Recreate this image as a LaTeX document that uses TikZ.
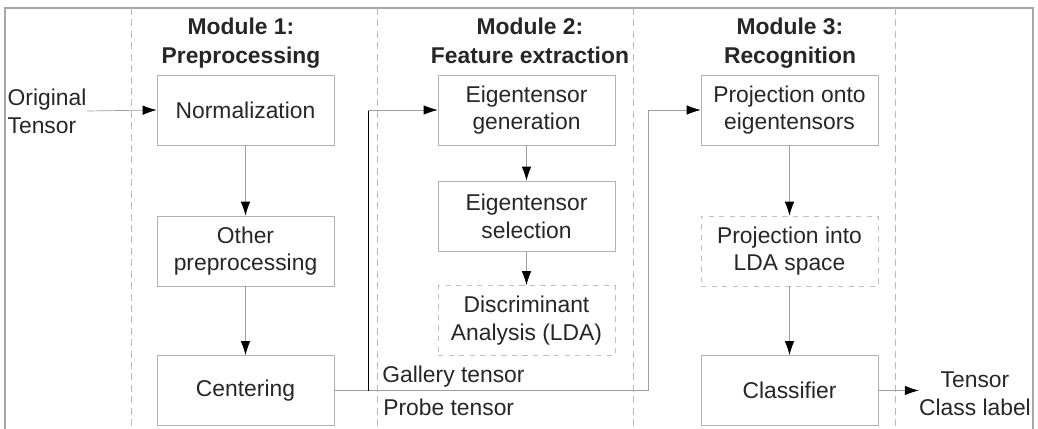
\documentclass[tikz,border=0pt]{standalone}
\usepackage{fontspec}
\setmainfont{Liberation Sans}
\usetikzlibrary{arrows.meta}

\tikzset{
    box/.style={draw=gray!60, minimum width=3.54cm, minimum height=1.4cm, align=center, inner sep=1pt},
    dbox/.style={box, dashed, draw=gray!50},
    conn/.style={draw=gray!75, -{Latex[length=2.8mm,width=1.9mm,black]}},
    title/.style={font=\fontsize{13}{16.5}\selectfont\bfseries, align=center, anchor=north, inner sep=0pt},
    sep/.style={draw=gray!55, dashed, dash pattern=on 4pt off 2.5pt}
}

\begin{document}
\begin{tikzpicture}[x=0.02cm, y=-0.02cm, font=\fontsize{13}{15.8}\selectfont, text=black!85]
    \useasboundingbox (0,0) rectangle (1038,429);
    % frame and module separators
    \draw[gray!70, line width=1.2pt] (5,429) -- (5,8) -- (1033,8) -- (1033,429);
    \foreach \x in {131,377,633,895}
        \draw[sep] (\x,8) -- (\x,429);
    % module titles
    \node[title] (m1) at (241,18) {Module 1:\\Preprocessing};
    \node[title] (m2) at (530,18) {Module 2:\\Feature extraction};
    \node[title] (m3) at (790,18) {Module 3:\\Recognition};
    % module 1
    \node[box] (norm) at (245.5,110) {Normalization};
    \node[box] (other) at (245.5,251) {Other\\preprocessing};
    \node[box] (cent) at (245.5,390.5) {Centering};
    % module 2
    \node[box] (egen) at (526.5,110) {Eigentensor\\generation};
    \node[box] (esel) at (526.5,216) {Eigentensor\\selection};
    \node[dbox] (lda) at (526.5,320.5) {Discriminant\\Analysis (LDA)};
    % module 3
    \node[box] (ponto) at (789.5,110) {Projection onto\\eigentensors};
    \node[dbox] (pinto) at (789.5,251) {Projection into\\LDA space};
    \node[box] (clsf) at (789.5,390.5) {Classifier};
    % inputs and outputs
    \node[align=left, inner sep=0pt] (orig) at (47,111) {Original\\Tensor};
    \node[align=center, inner sep=0pt] (out) at (975,394) {Tensor\\Class label};
    \coordinate (ja) at (368,390.5);
    \coordinate (jb) at (648,390.5);
    \node[anchor=west, inner sep=0pt] (gal) at (382,377) {Gallery tensor};
    \node[anchor=west, inner sep=0pt] (prb) at (383,407) {Probe tensor};
    % connectors
    \draw[conn] (orig.east) -- (norm.west);
    \draw[conn] (norm) -- (other);
    \draw[conn] (other) -- (cent);
    \draw[conn] (egen) -- (esel);
    \draw[conn] (esel) -- (lda);
    \draw[conn] (ponto) -- (pinto);
    \draw[conn] (pinto) -- (clsf);
    \draw[conn] (cent.east) -- (jb) |- (ponto.west);
    \draw[black] (ja) -- (ja |- egen.west);
    \draw[conn] (ja |- egen.west) -- (egen.west);
    \draw[conn] (clsf.east) -- (out.west |- clsf.east);
\end{tikzpicture}
\end{document}
